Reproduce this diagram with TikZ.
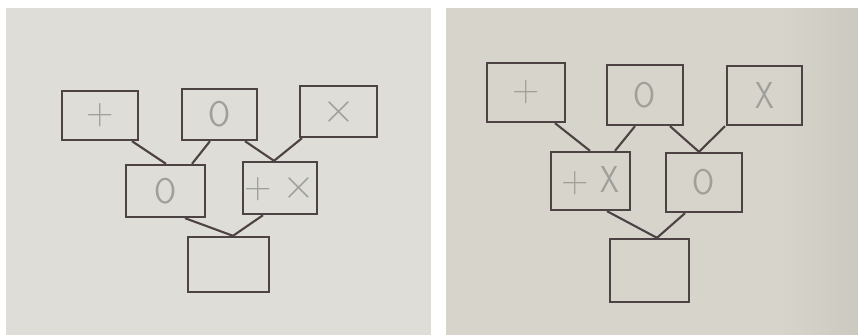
\documentclass[tikz,border=0pt]{standalone}
\usetikzlibrary{calc}
\definecolor{paperL}{RGB}{222,221,215}
\definecolor{paperR}{RGB}{215,212,204}
\definecolor{paperS}{RGB}{204,201,193}
\definecolor{ink}{RGB}{78,67,68}
\definecolor{pencil}{RGB}{160,160,155}
\newcommand{\ovalO}{\scalebox{0.85}[0.95]{O}}
\newcommand{\slimX}{\scalebox{0.8}[1]{X}}
\newcommand{\cross}{\scalebox{1.45}{$\times$}}
\tikzset{
  card/.style 2 args={draw=ink, line width=2pt, minimum width=#1*0.03cm,
    minimum height=#2*0.03cm, inner sep=0pt, text=pencil,
    font=\fontsize{32}{32}\selectfont\sffamily},
  link/.style={ink, line width=1.8pt}
}
\begin{document}
\begin{tikzpicture}[x=0.03cm, y=-0.03cm]
\useasboundingbox (0,0) rectangle (858,335);
% the two photos
\fill[white] (0,0) rectangle (858,335);
\fill[paperL] (6,8) rectangle (431,335);
\fill[paperR] (446,8) rectangle (858,335);
\shade[left color=paperR, right color=paperS] (780,8) rectangle (858,335);
% left sketch
\node[card={76}{49}] (lp) at (100,115.5) {+};
\node[card={75}{51}] (lo) at (219.5,114.5) {\ovalO};
\node[card={77}{51}] (lx) at (338.5,111.5) {\cross};
\node[card={79}{52}] (lmo) at (165.5,191) {\ovalO};
\node[card={74}{52}] (lmpx) at (280,188) {+\hspace{0.3em}\cross};
\node[card={81}{55}] (lb) at (228.5,264.5) {};
\foreach \a/\da/\b/\db in {lp/32/lmo/0.5, lo/-9.5/lmo/26.5, lo/25.5/lmpx/-6,
                          lx/-36.5/lmpx/-6, lmo/19.5/lb/4.5, lmpx/-17/lb/4.5}
  \draw[link] ($(\a.south)+(\da,0)$) -- ($(\b.north)+(\db,0)$);
% right sketch
\node[card={78}{59}] (rp) at (526,92.5) {+};
\node[card={76}{60}] (ro) at (645,95) {\ovalO};
\node[card={75}{59}] (rx) at (764.5,95.5) {\slimX};
\node[card={79}{58}] (rmpx) at (590.5,181) {+\hspace{0.3em}\slimX};
\node[card={76}{59}] (rmo) at (704,182.5) {\ovalO};
\node[card={79}{63}] (rb) at (649.5,270.5) {};
\foreach \a/\da/\b/\db in {rp/29/rmpx/-0.5, ro/-10/rmpx/24.5, ro/25/rmo/-5,
                          rx/-39.5/rmo/-5, rmpx/16.5/rb/7.5, rmo/-19/rb/7.5}
  \draw[link] ($(\a.south)+(\da,0)$) -- ($(\b.north)+(\db,0)$);
\end{tikzpicture}
\end{document}
